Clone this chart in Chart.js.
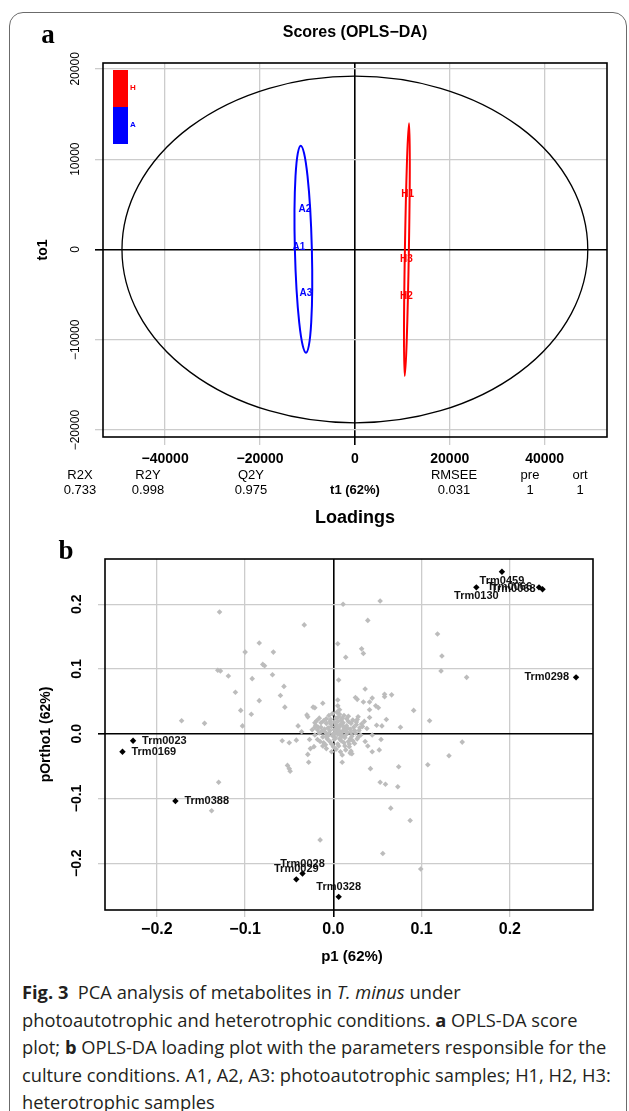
<!DOCTYPE html>
<html>
<head>
<meta charset="utf-8">
<title>OPLS-DA scores and loadings</title>
<script src="https://cdn.jsdelivr.net/npm/chart.js@4.4.1/dist/chart.umd.min.js"></script>
<style>
  html, body { margin: 0; padding: 0; background: #fff; }
  body { position: relative; width: 629px; height: 1111px; overflow: hidden; }
  .card { position: absolute; left: 9px; top: 12px; width: 616px; height: 1120px;
          border: 1px solid #6b6b6b; border-radius: 14px 14px 0 0; }
  .plot { position: absolute; left: 0; width: 629px; }
  #boxA { top: 0; height: 535px; }
  #boxB { top: 535px; height: 440px; }
  .caption { position: absolute; left: 22px; top: 978px; font-family: 'Open Sans', sans-serif;
             font-size: 18.3px; line-height: 27.5px; color: #231f20; white-space: nowrap; }
</style>
</head>
<body>
<div class="card"></div>
<div class="plot" id="boxA"><canvas id="scores"></canvas></div>
<div class="plot" id="boxB"><canvas id="loadings"></canvas></div>
<div class="caption">
<b>Fig. 3</b>&nbsp; PCA analysis of metabolites in <i>T. minus</i> under<br>
photoautotrophic and heterotrophic conditions. <b>a</b> OPLS-DA score<br>
plot; <b>b</b> OPLS-DA loading plot with the parameters responsible for the<br>
culture conditions. A1, A2, A3: photoautotrophic samples; H1, H2, H3:<br>
heterotrophic samples
</div>
<script>
// ---- panel a: OPLS-DA scores ----
const sampleNames = ['A1', 'A2', 'A3', 'H1', 'H2', 'H3'];
const sampleGroup = ['A', 'A', 'A', 'H', 'H', 'H'];
const t1Scores = [-11780, -10515, -10305, 11146, 10873, 10873];
const to1Scores = [200, 4485, -4817, 6146, -5150, -1052];
const groupNames = ['H', 'A'];
const scoreTicksX = [-40000, -20000, 0, 20000, 40000];
const scoreTicksY = [-20000, -10000, 0, 10000, 20000];
const statNames = ['R2X', 'R2Y', 'Q2Y', 'RMSEE', 'pre', 'ort'];
const statValues = ['0.733', '0.998', '0.975', '0.031', '1', '1'];
// ellipses: centre t1, centre to1, half width, half height, t1 shift of the top end
const hotelling = [0, 0, 49100, 19200, 0];
const ellipseA = [-10860, 30, 1790, 11460, -555];
const ellipseH = [10965, -17, 420, 13990, 455];

// ---- panel b: loadings ----
const loadingNames = ['Trm0459', 'Trm0130', 'Trm0066', 'Trm0068', 'Trm0298', 'Trm0023',
  'Trm0169', 'Trm0388', 'Trm0028', 'Trm0029', 'Trm0328'];
const loadingP1 = [0.191, 0.162, 0.233, 0.237, 0.275, -0.227, -0.239, -0.179, -0.035, -0.042, 0.006];
const loadingPOrtho = [0.250, 0.226, 0.226, 0.223, 0.087, -0.011, -0.028, -0.104, -0.216, -0.225, -0.252];
const labelSide = [1, 1, 2, 2, 2, 4, 4, 4, 3, 3, 3]; // 1 below, 2 left, 3 above, 4 right
const otherP1 = [
  -0.129, -0.033, 0.011, 0.053, 0.039, -0.084, -0.100, -0.068, 0.005, 0.014,
  0.032, 0.034, -0.080, -0.078, -0.131, -0.128, -0.119, -0.092, -0.069, 0.006,
  -0.056, -0.111, -0.060, -0.084, -0.055, -0.105, -0.093, -0.103, -0.172, -0.146,
  0.036, 0.025, 0.027, 0.044, 0.058, 0.058, 0.066, 0.034, 0.041, 0.041,
  0.048, 0.051, 0.091, 0.060, 0.076, 0.109, 0.041, 0.027, 0.032, 0.049,
  0.055, 0.044, 0.054, 0.039, 0.044, 0.052, 0.019, 0.021, 0.010, 0.042,
  0.074, 0.107, -0.023, -0.021, -0.012, -0.030, -0.029, -0.040, -0.036, -0.021,
  -0.021, -0.058, -0.050, -0.042, -0.027, -0.026, -0.022, -0.029, -0.028, -0.052,
  -0.050, -0.049, 0.005, 0.005, 0.007, -0.130, -0.138, -0.015, 0.131, 0.053,
  0.059, 0.073, 0.065, 0.087, 0.056, 0.099, 0.118, 0.123, 0.122, 0.151,
  0.146,
  0.000, 0.004, -0.004, 0.008, 0.002, -0.006, 0.011, 0.006, -0.002, 0.013,
  -0.010, 0.003, 0.016, -0.012, 0.009, -0.004, 0.019, 0.001, -0.014, 0.015,
  0.021, -0.008, 0.011, -0.016, 0.005, 0.017, -0.011, 0.023, 0.009, -0.003,
  0.025, -0.018, 0.013, 0.000, -0.014, 0.020, 0.027, -0.008, 0.018, 0.006,
  -0.018, 0.029, 0.003, -0.012, 0.022, 0.031, 0.012, 0.024, -0.005, -0.020,
  0.014, 0.026, -0.008, 0.033, 0.008, -0.021, 0.017, 0.004, 0.007, -0.001,
  0.035, 0.038, 0.028, -0.016, 0.020, -0.002, 0.010, 0.036, -0.024, -0.019,
  0.002, -0.001, 0.005, 0.003, -0.005, 0.009, 0.007, 0.001, -0.007, 0.012,
  0.010, -0.009, 0.004, 0.014, -0.003, 0.008, 0.016, -0.006, 0.012, 0.019,
  -0.013, 0.006, -0.009, 0.017, 0.024, 0.022, -0.015, 0.003, -0.011, 0.015,
  0.026, 0.030, -0.017, 0.010, -0.002, 0.005, 0.020, 0.013, -0.004, 0.018,
  0.028, 0.001, 0.007, -0.008, 0.011
];
const otherPOrtho = [
  0.188, 0.168, 0.200, 0.205, 0.175, 0.140, 0.126, 0.126, 0.139, 0.118,
  0.131, 0.124, 0.107, 0.105, 0.098, 0.097, 0.089, 0.085, 0.091, 0.083,
  0.073, 0.064, 0.059, 0.051, 0.041, 0.036, 0.030, 0.012, 0.020, 0.016,
  0.069, 0.056, 0.053, 0.055, 0.061, 0.057, 0.060, 0.049, 0.049, 0.037,
  0.043, 0.040, 0.036, 0.022, 0.010, 0.020, 0.025, 0.022, 0.015, 0.013,
  0.012, -0.002, -0.009, -0.019, -0.028, -0.025, -0.030, -0.031, -0.044, -0.054,
  -0.051, -0.048, 0.041, 0.040, 0.047, 0.029, 0.026, 0.012, 0.003, 0.017,
  0.010, -0.011, -0.014, -0.010, -0.009, -0.023, -0.020, -0.032, -0.044, -0.049,
  -0.054, -0.058, 0.052, 0.043, 0.037, -0.075, -0.119, -0.164, -0.034, -0.075,
  -0.078, -0.082, -0.115, -0.134, -0.185, -0.209, 0.154, 0.120, 0.097, 0.087,
  -0.013,
  0.000, 0.003, 0.005, -0.002, -0.006, -0.003, 0.005, 0.009, 0.011, -0.006,
  0.007, 0.014, 0.002, -0.005, -0.011, -0.012, 0.007, 0.018, 0.010, 0.012,
  -0.004, 0.016, 0.017, 0.001, -0.016, -0.012, -0.014, 0.010, 0.021, 0.022,
  0.001, 0.006, -0.019, -0.020, 0.017, 0.016, -0.008, 0.023, -0.020, 0.026,
  -0.009, 0.005, -0.024, -0.019, 0.021, -0.002, 0.028, -0.015, 0.028, 0.013,
  -0.025, 0.014, -0.023, 0.011, -0.028, -0.002, 0.027, 0.033, 0.030, 0.031,
  0.019, 0.008, 0.026, 0.024, -0.027, -0.028, -0.033, -0.012, 0.006, 0.020,
  0.001, -0.003, -0.001, 0.007, 0.001, 0.001, 0.004, -0.009, -0.008, 0.009,
  -0.004, 0.002, 0.011, -0.002, 0.015, 0.014, 0.008, 0.009, -0.014, -0.008,
  0.004, -0.019, -0.017, 0.019, 0.005, -0.011, -0.012, 0.024, 0.020, 0.023,
  0.018, 0.009, 0.010, 0.024, -0.016, 0.019, 0.002, 0.005, 0.019, -0.016,
  -0.005, 0.006, -0.008, -0.004, 0.012
];
const loadingTicks = [-0.2, -0.1, 0, 0.1, 0.2];

const groupColors = { A: '#0000ff', H: '#ff0000' };
Chart.defaults.font.family = "'Liberation Sans', Arial, sans-serif";
Chart.defaults.color = '#000';

const minus = '\u2212';
const fmtInt = v => (v < 0 ? minus + Math.abs(v) : String(v));
const fmtDec = v => (v < -1e-9 ? minus : '') + Math.abs(v).toFixed(1);

function gridStyle(len) {
  return {
    color: c => (c.tick && c.tick.value === 0 ? '#000' : '#cccccc'),
    lineWidth: c => (c.tick && c.tick.value === 0 ? 1.6 : 1.3),
    tickLength: len
  };
}

function drawEllipse(ctx, xs, ys, e, color, lw) {
  const [cx, cy, hx, hy, shift] = e;
  const px = xs.getPixelForValue(cx), py = ys.getPixelForValue(cy);
  const dx = xs.getPixelForValue(cx + shift) - px;
  const dy = py - ys.getPixelForValue(cy + hy);
  const ry = Math.hypot(dx, dy);
  const rx = Math.abs(xs.getPixelForValue(cx + hx) - px);
  ctx.beginPath();
  ctx.ellipse(px, py, rx, ry, Math.atan2(dx, dy), 0, Math.PI * 2);
  ctx.strokeStyle = color;
  ctx.lineWidth = lw;
  ctx.stroke();
}

function text(ctx, str, x, y, font, color, align, rot) {
  ctx.save();
  ctx.translate(x, y);
  if (rot) ctx.rotate(rot);
  ctx.font = font;
  ctx.fillStyle = color || '#000';
  ctx.textAlign = align || 'center';
  ctx.textBaseline = 'middle';
  ctx.fillText(str, 0, 0);
  ctx.restore();
}

const frame = {
  id: 'frame',
  afterDraw(chart) {
    const { ctx, chartArea: a } = chart;
    ctx.save();
    ctx.strokeStyle = '#000';
    ctx.lineWidth = 1.6;
    ctx.strokeRect(a.left, a.top, a.right - a.left, a.bottom - a.top);
    ctx.restore();
  }
};

// 得分图
const scoreDecor = {
  id: 'scoreDecor',
  beforeDatasetsDraw(chart) {
    const { ctx, chartArea: a, scales: { x, y } } = chart;
    ctx.save();
    ctx.beginPath();
    ctx.rect(a.left, a.top, a.right - a.left, a.bottom - a.top);
    ctx.clip();
    drawEllipse(ctx, x, y, hotelling, '#000', 1.3);
    drawEllipse(ctx, x, y, ellipseA, groupColors.A, 2);
    drawEllipse(ctx, x, y, ellipseH, groupColors.H, 2);
    ctx.restore();
  },
  afterDatasetsDraw(chart) {
    const { ctx, chartArea: a } = chart;
    chart.getDatasetMeta(0).data.forEach((pt, i) => {
      text(ctx, sampleNames[i], pt.x, pt.y, 'bold 10px "Liberation Sans"', groupColors[sampleGroup[i]]);
    });
    // group colour key
    groupNames.forEach((g, i) => {
      ctx.fillStyle = groupColors[g];
      ctx.fillRect(a.left + 10, a.top + 7 + i * 37, 15, 37);
      text(ctx, g, a.left + 27, a.top + 25 + i * 37, 'bold 8px "Liberation Sans"', groupColors[g], 'left');
    });
  },
  afterDraw(chart) {
    const { ctx, chartArea: a } = chart;
    const mid = (a.left + a.right) / 2;
    text(ctx, 'Scores (OPLS\u2212DA)', mid, 33, 'bold 16px "Liberation Sans"');
    text(ctx, 'a', 48, 36, 'bold 27px "Liberation Serif"');
    text(ctx, 'to1', 43, (a.top + a.bottom) / 2, 'bold 14px "Liberation Sans"', '#000', 'center', -Math.PI / 2);
    const statX = [80, 148, 251, 454, 530, 580];
    statNames.forEach((s, i) => {
      text(ctx, s, statX[i], 475, '13px "Liberation Sans"');
      text(ctx, statValues[i], statX[i], 490, '13px "Liberation Sans"');
    });
    text(ctx, 't1 (62%)', mid, 490, 'bold 13px "Liberation Sans"');
    text(ctx, 'Loadings', mid, 518, 'bold 18px "Liberation Sans"');
  }
};

new Chart(document.getElementById('scores'), {
  type: 'scatter',
  data: {
    datasets: [{
      data: sampleNames.map((n, i) => ({ x: t1Scores[i], y: to1Scores[i] })),
      pointRadius: 0,
      pointHoverRadius: 0
    }]
  },
  options: {
    responsive: true,
    maintainAspectRatio: false,
    animation: false,
    events: [],
    layout: { padding: { top: 63, right: 22, left: 0, bottom: 0 } },
    plugins: { legend: { display: false }, tooltip: { enabled: false } },
    scales: {
      x: {
        min: -53100, max: 53150,
        afterBuildTicks: s => { s.ticks = scoreTicksX.map(v => ({ value: v })); },
        afterFit: s => { s.height = 98; },
        grid: gridStyle(8),
        border: { display: false },
        ticks: { font: { size: 14, weight: 'bold' }, padding: 6, maxRotation: 0, callback: fmtInt }
      },
      y: {
        min: -20760, max: 20650,
        afterBuildTicks: s => { s.ticks = scoreTicksY.map(v => ({ value: v })); },
        afterFit: s => { s.width = 103; },
        grid: gridStyle(8),
        border: { display: false },
        ticks: { font: { size: 12 }, padding: -1, minRotation: 90, maxRotation: 90,
                 crossAlign: 'center', callback: fmtInt }
      }
    }
  },
  plugins: [scoreDecor, frame]
});

// 载荷图
const loadingDecor = {
  id: 'loadingDecor',
  afterDatasetsDraw(chart) {
    const { ctx } = chart;
    const font = 'bold 11px "Liberation Sans"';
    chart.getDatasetMeta(1).data.forEach((pt, i) => {
      const side = labelSide[i];
      if (side === 1) text(ctx, loadingNames[i], pt.x, pt.y + 9, font, '#111');
      else if (side === 2) text(ctx, loadingNames[i], pt.x - 7, pt.y, font, '#111', 'right');
      else if (side === 3) text(ctx, loadingNames[i], pt.x, pt.y - 10, font, '#111');
      else text(ctx, loadingNames[i], pt.x + 9, pt.y, font, '#111', 'left');
    });
  },
  afterDraw(chart) {
    const { ctx, chartArea: a } = chart;
    text(ctx, 'b', 66, 17, 'bold 27px "Liberation Serif"');
    text(ctx, 'pOrtho1 (62%)', 46, (a.top + a.bottom) / 2, 'bold 14px "Liberation Sans"', '#000', 'center', -Math.PI / 2);
    text(ctx, 'p1 (62%)', (a.left + a.right) / 2 + 3, 422, 'bold 15px "Liberation Sans"');
  }
};

new Chart(document.getElementById('loadings'), {
  type: 'scatter',
  data: {
    datasets: [{
      data: otherP1.map((v, i) => ({ x: v, y: otherPOrtho[i] })),
      pointStyle: 'rectRot',
      pointRadius: 2.8,
      pointHoverRadius: 2.8,
      backgroundColor: '#bcbcbc',
      borderWidth: 0
    }, {
      data: loadingP1.map((v, i) => ({ x: v, y: loadingPOrtho[i] })),
      pointStyle: 'rectRot',
      pointRadius: 3.2,
      pointHoverRadius: 3.2,
      backgroundColor: '#000',
      borderWidth: 0
    }]
  },
  options: {
    responsive: true,
    maintainAspectRatio: false,
    animation: false,
    events: [],
    layout: { padding: { top: 24, right: 36, left: 0, bottom: 0 } },
    plugins: { legend: { display: false }, tooltip: { enabled: false } },
    scales: {
      x: {
        min: -0.2588, max: 0.2942,
        afterBuildTicks: s => { s.ticks = loadingTicks.map(v => ({ value: v })); },
        afterFit: s => { s.height = 65; },
        grid: gridStyle(7),
        border: { display: false },
        ticks: { font: { size: 16, weight: 'bold' }, padding: 3, maxRotation: 0, callback: fmtDec }
      },
      y: {
        min: -0.2723, max: 0.2698,
        afterBuildTicks: s => { s.ticks = loadingTicks.map(v => ({ value: v })); },
        afterFit: s => { s.width = 105; },
        grid: gridStyle(7),
        border: { display: false },
        ticks: { font: { size: 14, weight: 'bold' }, padding: 7, minRotation: 90, maxRotation: 90,
                 crossAlign: 'center', callback: fmtDec }
      }
    }
  },
  plugins: [loadingDecor, frame]
});
</script>
</body>
</html>
